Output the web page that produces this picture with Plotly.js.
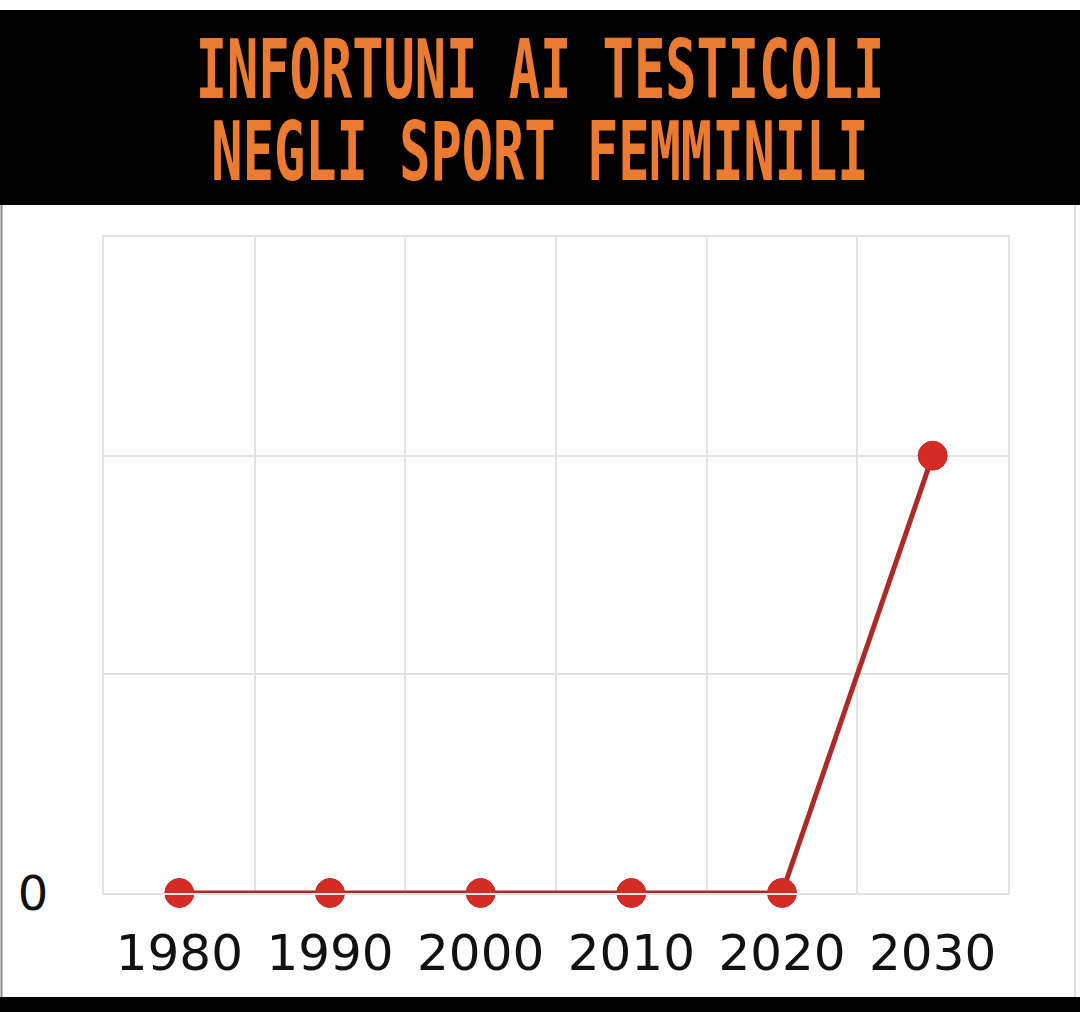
<!DOCTYPE html>
<html>
<head>
<meta charset="utf-8">
<script src="https://cdn.plot.ly/plotly-3.0.1.min.js"></script>
<style>
  html, body { margin: 0; padding: 0; background: #ffffff; }
  #chart { width: 1080px; height: 1012px; }
</style>
</head>
<body>
<div id="chart"></div>
<script>
// ---- data ----
const years = ['1980', '1990', '2000', '2010', '2020', '2030'];
const injuries = [0, 0, 0, 0, 0, 2];
const yTickVals = [0, 1, 2, 3];
const yTickText = ['0', '', '', ''];
const titleLines = ['INFORTUNI AI TESTICOLI', 'NEGLI SPORT FEMMINILI'];

// ---- geometry helpers (plot area in pixels) ----
const W = 1080, H = 1012;
const L = 104, R = 1008, T = 237, B = 893;
const px = x => (x - L) / (R - L);
const py = y => (B - y) / (B - T);

const grid = '#e2e2e2';
const orange = '#EC7B32';
const TITLE_SIZE = 52;

const trace = {
  x: years,
  y: injuries,
  type: 'scatter',
  mode: 'lines+markers',
  cliponaxis: false,
  line: { color: '#ae2a28', width: 5 },
  marker: { color: '#d42c24', size: 29, line: { color: '#c22822', width: 1 } },
  hoverinfo: 'skip'
};

const layout = {
  width: W,
  height: H,
  margin: { l: L, r: W - R, t: T, b: H - B, pad: 0 },
  paper_bgcolor: '#ffffff',
  plot_bgcolor: '#ffffff',
  showlegend: false,
  title: {
    text: titleLines.join('<br>'),
    font: { family: 'DejaVu Sans Mono', size: TITLE_SIZE, color: orange, weight: 'bold' },
    xref: 'container', yref: 'container',
    x: 0.5, xanchor: 'center',
    y: 1 - 108 / H, yanchor: 'middle'
  },
  xaxis: {
    type: 'category',
    range: [-0.5, 5.5],
    tickson: 'boundaries',
    showgrid: true,
    gridcolor: grid,
    gridwidth: 2,
    showline: true,
    linecolor: grid,
    linewidth: 2,
    mirror: true,
    ticks: '',
    ticklabelstandoff: 15,
    tickfont: { family: 'DejaVu Sans', size: 50, color: '#111111' },
    fixedrange: true
  },
  yaxis: {
    range: [0, 3],
    tickvals: yTickVals,
    ticktext: yTickText,
    showgrid: true,
    gridcolor: grid,
    gridwidth: 2,
    zeroline: true,
    zerolinecolor: grid,
    zerolinewidth: 2,
    showline: true,
    linecolor: grid,
    linewidth: 2,
    mirror: true,
    ticks: '',
    ticklabelstandoff: 44,
    tickfont: { family: 'DejaVu Sans', size: 48, color: '#111111' },
    fixedrange: true
  },
  shapes: [
    // black banner behind the title
    { type: 'rect', xref: 'paper', yref: 'paper', layer: 'below',
      x0: px(-2), x1: px(W + 2), y0: py(205), y1: py(10),
      fillcolor: '#000000', line: { width: 0 } },
    // black bar at the bottom
    { type: 'rect', xref: 'paper', yref: 'paper', layer: 'below',
      x0: px(-2), x1: px(W + 2), y0: py(H + 2), y1: py(997),
      fillcolor: '#000000', line: { width: 0 } },
    // faint frame lines of the white panel
    { type: 'line', xref: 'paper', yref: 'paper', layer: 'below',
      x0: px(1.5), x1: px(1.5), y0: py(205), y1: py(997),
      line: { color: '#8a8a8a', width: 2 } },
    { type: 'line', xref: 'paper', yref: 'paper', layer: 'below',
      x0: px(1075), x1: px(1075), y0: py(205), y1: py(997),
      line: { color: '#dddddd', width: 2 } }
  ]
};

Plotly.newPlot('chart', [trace], layout, { displayModeBar: false, staticPlot: true }).then(gd => {
  // The banner lettering is a tall, condensed face with tight leading:
  // tighten the line gap to 1em and stretch the text vertically so that the
  // first baseline sits at y=98 and the second at y=180.
  const el = gd.querySelector('.gtitle');
  if (!el) return;
  const lines = el.querySelectorAll('tspan.line');
  if (lines.length > 1) lines[1].setAttribute('dy', '1em');
  el.removeAttribute('transform');
  const bb = el.getBBox();
  const asc = 0.928 * TITLE_SIZE;        // DejaVu ascent
  const b1 = bb.y + asc;                 // first baseline (unscaled)
  const s = (180 - 98) / TITLE_SIZE;     // vertical stretch
  const ty = 98 - s * b1;
  el.setAttribute('transform', `translate(0,${ty}) scale(1,${s})`);
});
</script>
</body>
</html>
